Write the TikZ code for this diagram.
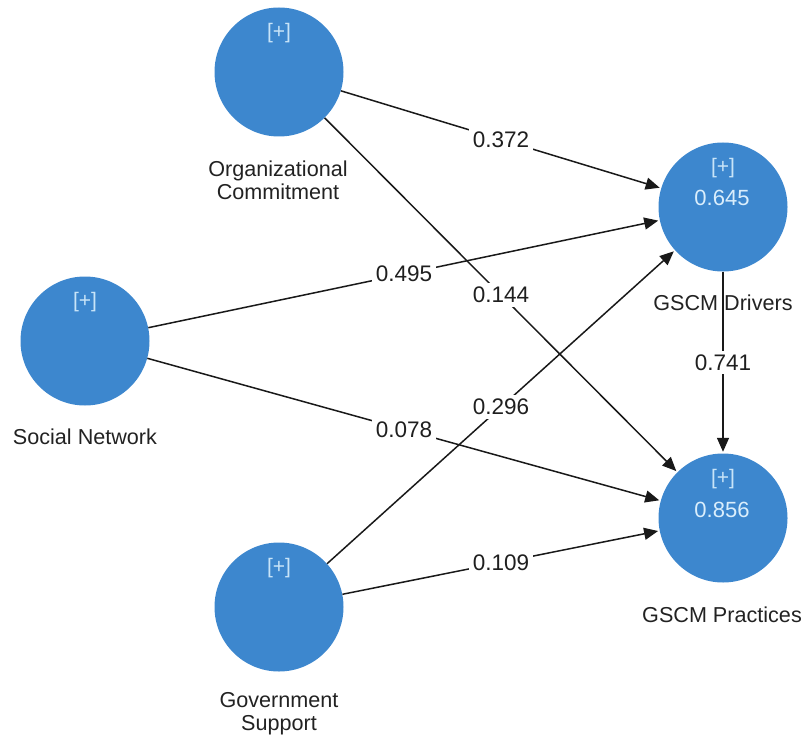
\documentclass[tikz,border=0pt]{standalone}
\usepackage{fontspec}
\setmainfont{Liberation Sans}
\usetikzlibrary{arrows.meta}
\definecolor{lvblue}{RGB}{61,135,206}
\definecolor{plustxt}{RGB}{200,228,248}
\definecolor{valtxt}{RGB}{218,238,252}
\definecolor{nametxt}{RGB}{34,34,34}
\tikzset{
  lv/.style={circle, fill=lvblue, minimum size=129pt, inner sep=0pt},
  plusmark/.style={text=plustxt, font=\fontsize{21}{24}\selectfont},
  rsqval/.style={text=valtxt, font=\fontsize{22}{26}\selectfont},
  lvname/.style={text=nametxt, font=\fontsize{21.6}{24}\selectfont, align=center, inner sep=0pt},
  pathedge/.style={line width=1.5pt, draw=black!90, -{Triangle[length=14pt,width=12pt]}, shorten >=1.5pt},
  wt/.style={fill=white, text=black!88, inner sep=4pt, font=\fontsize{22.5}{26}\selectfont}
}
\begin{document}
\begin{tikzpicture}[x=1pt,y=-1pt]
\useasboundingbox (0,0) rectangle (805,738);
% latent variables
\node[lv] (oc) at (279,72) {};
\node[lv] (sn) at (85,341) {};
\node[lv] (gs) at (279,607) {};
\node[lv] (gd) at (723,207) {};
\node[lv] (gp) at (723,518) {};
% [+] markers
\node[plusmark] (ocp) at (279,33) {[+]};
\node[plusmark] (snp) at (85,302) {[+]};
\node[plusmark] (gsp) at (279,568) {[+]};
\node[plusmark] (gdp) at (723,168) {[+]};
\node[plusmark] (gpp) at (723,479) {[+]};
% R2 values
\node[rsqval] (gdv) at (722,198) {0.645};
\node[rsqval] (gpv) at (722,510) {0.856};
% names
\node[lvname] (ocn) at (278,180) {Organizational\\[-1pt]Commitment};
\node[lvname] (snn) at (85,437) {Social Network};
\node[lvname] (gsn) at (279,714) {Government\\[-1pt]Support};
\node[lvname] (gdn) at (723,303) {GSCM Drivers};
\node[lvname] (gpn) at (722,615) {GSCM Practices};
% paths
\draw[pathedge] (oc) -- node[wt] (w1) {0.372} (gd);
\draw[pathedge] (oc) -- node[wt, pos=0.5] (w2) {0.144} (gp);
\draw[pathedge] (sn) -- node[wt] (w3) {0.495} (gd);
\draw[pathedge] (sn) -- node[wt] (w4) {0.078} (gp);
\draw[pathedge] (gs) -- node[wt] (w5) {0.296} (gd);
\draw[pathedge] (gs) -- node[wt] (w6) {0.109} (gp);
\draw[pathedge] (gd) -- node[wt] (w7) {0.741} (gp);
\end{tikzpicture}
\end{document}
